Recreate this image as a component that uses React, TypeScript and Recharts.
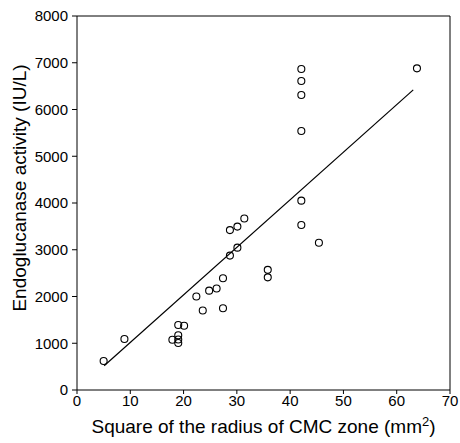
import { ScatterChart, Scatter, XAxis, YAxis, ReferenceLine, Label } from 'recharts';

// square of the CMC zone radius (mm^2) and matching endoglucanase activity (IU/L)
const radiusSquared = [
  5.0, 8.9, 17.9, 19.0, 19.0, 19.0, 19.0, 20.1, 22.4, 23.6, 24.8, 26.2, 27.4, 27.4, 28.7,
  28.7, 30.1, 30.1, 31.4, 35.8, 35.8, 42.1, 42.1, 42.1, 42.1, 42.1, 42.1, 45.4, 63.8,
];
const activity = [
  620, 1090, 1075, 1170, 1080, 1005, 1390, 1375, 2000, 1700, 2125, 2170, 2390, 1750, 2875,
  3420, 3495, 3045, 3670, 2570, 2410, 6865, 6610, 6310, 5540, 4050, 3530, 3150, 6880,
];

// regression line ends
const fitX = [5.1, 63.1];
const fitY = [520, 6420];

const xTicks = [0, 10, 20, 30, 40, 50, 60, 70];
const yTicks = [0, 1000, 2000, 3000, 4000, 5000, 6000, 7000, 8000];

const points = radiusSquared.map((x, i) => ({ x, y: activity[i] }));
const fitLine = fitX.map((x, i) => ({ x, y: fitY[i] }));

const font = 'Liberation Sans, Arial, sans-serif';
const tickStyle = { fill: '#000', fontSize: 15, fontFamily: font };

const OpenCircle = (props: any) => (
  <circle cx={props.cx} cy={props.cy} r={3.5} fill="none" stroke="#000" strokeWidth={1.1} />
);

const App = () => (
  <div style={{ position: 'absolute', left: 0, top: 0, background: '#fff' }}>
    <ScatterChart width={460} height={443} margin={{ top: 16, right: 10, bottom: 0, left: 0 }}>
      <XAxis
        type="number"
        dataKey="x"
        domain={[0, 70]}
        ticks={xTicks}
        tick={tickStyle}
        tickSize={4}
        tickMargin={1}
        height={53}
        stroke="#000"
        allowDataOverflow
      >
        <Label
          content={() => (
            <text x={263.5} y={433} textAnchor="middle" fontSize={19} fontFamily={font} fill="#000">
              Square of the radius of CMC zone (mm
              <tspan dy={-7} fontSize={13}>2</tspan>
              <tspan dy={7}>)</tspan>
            </text>
          )}
        />
      </XAxis>
      <YAxis
        type="number"
        dataKey="y"
        domain={[0, 8000]}
        ticks={yTicks}
        tick={tickStyle}
        tickSize={5}
        tickMargin={4}
        width={77}
        stroke="#000"
        allowDataOverflow
      >
        <Label
          content={() => (
            <text
              x={26}
              y={188}
              transform="rotate(-90 26 188)"
              textAnchor="middle"
              fontSize={19}
              fontFamily={font}
              fill="#000"
            >
              Endoglucanase activity (IU/L)
            </text>
          )}
        />
      </YAxis>
      <ReferenceLine y={8000} stroke="#000" />
      <ReferenceLine x={70} stroke="#000" />
      <Scatter
        data={fitLine}
        line={{ stroke: '#000', strokeWidth: 1.2 }}
        shape={() => <g />}
        isAnimationActive={false}
      />
      <Scatter data={points} shape={OpenCircle} isAnimationActive={false} />
    </ScatterChart>
  </div>
);

export default App;
